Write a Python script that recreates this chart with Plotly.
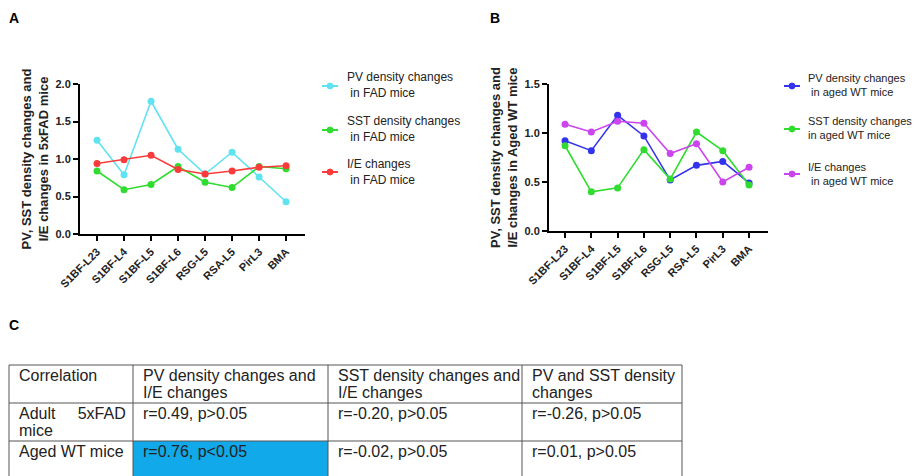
import plotly.graph_objects as go

regions = ["S1BF-L23", "S1BF-L4", "S1BF-L5", "S1BF-L6", "RSG-L5", "RSA-L5", "PirL3", "BMA"]

# Panel A: 5xFAD mice
pv_fad = [1.25, 0.79, 1.77, 1.13, 0.80, 1.09, 0.76, 0.43]
sst_fad = [0.84, 0.59, 0.66, 0.90, 0.69, 0.62, 0.90, 0.87]
ie_fad = [0.94, 0.99, 1.05, 0.86, 0.80, 0.84, 0.89, 0.91]

# Panel B: aged WT mice
pv_wt = [0.92, 0.82, 1.18, 0.97, 0.52, 0.67, 0.71, 0.49]
sst_wt = [0.87, 0.40, 0.44, 0.83, 0.53, 1.01, 0.82, 0.47]
ie_wt = [1.09, 1.01, 1.12, 1.10, 0.79, 0.89, 0.50, 0.65]

names_fad = ["PV density changes<br>\u00a0in FAD mice",
             "SST density changes<br>\u00a0in FAD mice",
             "I/E changes<br>\u00a0in FAD mice"]
names_wt = ["PV density changes<br>\u00a0in aged WT mice",
            "SST density changes<br>in aged WT mice",
            "I/E changes<br>\u00a0in aged WT mice"]

# Panel C: correlation table
table_header = ["Correlation", "PV density changes and<br>I/E changes",
                "SST density changes and<br>I/E changes", "PV and SST density<br>changes"]
table_rows = ["Adult\u00a0\u00a0\u00a0\u00a0\u00a05xFAD<br>mice", "Aged WT mice"]
corr_pv_ie = ["r=0.49, p>0.05", "r=0.76, p<0.05"]
corr_sst_ie = ["r=-0.20, p>0.05", "r=-0.02, p>0.05"]
corr_pv_sst = ["r=-0.26, p>0.05", "r=0.01, p>0.05"]
significant = [[False, False], [False, True], [False, False], [False, False]]

# the page body adds an 8 px margin; the figure is sized to the remaining view
OFF = 8
W, H = 920 - OFF, 476 - OFF
FONT = "Liberation Sans, Arial, sans-serif"
TXT = "#222222"

def px(x):
    return (x - OFF) / W

def py(y):
    return 1 - (y - OFF) / H

C_CYAN = "#5fe3f0"
C_GREEN = "#2fdc2f"
C_RED = "#fb3b3b"
C_BLUE = "#3333ee"
C_MAG = "#cc44ee"
C_SIG = "#11a9e9"

fig = go.Figure()

def add_series(y, color, name, xa, ya):
    fig.add_trace(go.Scatter(
        x=regions, y=y, mode="lines+markers", name=name.replace("<br>", " "),
        line=dict(color=color, width=1.6),
        marker=dict(color=color, size=7),
        xaxis=xa, yaxis=ya, showlegend=False,
    ))

colors_fad = [C_CYAN, C_GREEN, C_RED]
colors_wt = [C_BLUE, C_GREEN, C_MAG]
for ys, c, n in zip([pv_fad, sst_fad, ie_fad], colors_fad, names_fad):
    add_series(ys, c, n, "x", "y")
for ys, c, n in zip([pv_wt, sst_wt, ie_wt], colors_wt, names_wt):
    add_series(ys, c, n, "x2", "y2")

shapes = []
annotations = []

# Legends (drawn as key symbols + text)
def add_legend(names, colors, sym_x, text_x, centers, size):
    for n, c, cy in zip(names, colors, centers):
        shapes.append(dict(type="line", xref="paper", yref="paper",
                           x0=px(sym_x - 8), x1=px(sym_x + 8), y0=py(cy), y1=py(cy),
                           line=dict(color=c, width=2)))
        shapes.append(dict(type="circle", xref="paper", yref="paper",
                           x0=px(sym_x - 3), x1=px(sym_x + 3), y0=py(cy - 3), y1=py(cy + 3),
                           fillcolor=c, line=dict(color=c, width=1)))
        annotations.append(dict(text=n, x=px(text_x), y=py(cy - 0.5), xref="paper", yref="paper",
                                xanchor="left", yanchor="middle", align="left", showarrow=False,
                                font=dict(family=FONT, size=size, color=TXT)))

add_legend(names_fad, colors_fad, 330, 345, [86, 130, 172], 12)
add_legend(names_wt, colors_wt, 792, 806, [86, 129, 174], 11)

# Table (axis x3/y3 in pixel-like units)
col_widths = [124, 195, 194, 160]
row_heights = [38, 38, 38]
edges_x = [0]
for w in col_widths:
    edges_x.append(edges_x[-1] + w)
edges_y = [0]
for h in row_heights:
    edges_y.append(edges_y[-1] + h)

columns = [[table_header[0]] + table_rows,
           [table_header[1]] + corr_pv_ie,
           [table_header[2]] + corr_sst_ie,
           [table_header[3]] + corr_pv_sst]

for ci in range(len(col_widths)):
    for ri in range(1, len(row_heights)):
        if significant[ci][ri - 1]:
            shapes.append(dict(type="rect", xref="x3", yref="y3", layer="below",
                               x0=edges_x[ci], x1=edges_x[ci + 1],
                               y0=edges_y[ri], y1=edges_y[ri + 1],
                               fillcolor=C_SIG, line=dict(width=0)))
for yv in edges_y[:-1]:
    shapes.append(dict(type="line", xref="x3", yref="y3", x0=edges_x[0], x1=edges_x[-1],
                       y0=yv, y1=yv, line=dict(color="#555555", width=1)))
for xv in edges_x:
    shapes.append(dict(type="line", xref="x3", yref="y3", x0=xv, x1=xv,
                       y0=edges_y[0], y1=edges_y[-1], line=dict(color="#555555", width=1)))

for ci, col in enumerate(columns):
    for ri, txt in enumerate(col):
        for li, line in enumerate(txt.split("<br>")):
            annotations.append(dict(text=line, x=edges_x[ci] + 8, y=edges_y[ri] + 10.5 + 17 * li,
                                    xref="x3", yref="y3", xanchor="left", yanchor="middle",
                                    showarrow=False, font=dict(family=FONT, size=16, color=TXT)))

# Panel labels
for lab, lx, ly in [("A", 14, 18), ("B", 495, 18), ("C", 14, 325)]:
    annotations.append(dict(text="<b>%s</b>" % lab, x=px(lx), y=py(ly), xref="paper", yref="paper",
                            xanchor="center", yanchor="middle",
                            showarrow=False, font=dict(family=FONT, size=14, color="black")))

axis_common = dict(
    showline=True, linecolor="black", linewidth=2, ticks="outside",
    ticklen=5, tickwidth=2, tickcolor="black", showgrid=False, zeroline=False,
    automargin=False,
    tickfont=dict(family=FONT, size=11, color=TXT, weight="bold"),
)
title_font = dict(family=FONT, size=13, color=TXT, weight="bold")

fig.update_layout(
    width=W, height=H, margin=dict(l=0, r=0, t=0, b=0, autoexpand=False),
    paper_bgcolor="white", plot_bgcolor="white",
    font=dict(family=FONT, color=TXT),
    showlegend=False,
    xaxis=dict(domain=[px(80), px(305)], anchor="y", range=[-0.63, 7.7],
               tickangle=-45, **axis_common),
    yaxis=dict(domain=[py(234), py(84)], anchor="x", range=[0, 2.0],
               tickvals=[0, 0.5, 1.0, 1.5, 2.0], tickformat=".1f",
               title=dict(text="PV, SST density changes and<br>I/E changes in 5xFAD mice",
                          font=title_font, standoff=4),
               **axis_common),
    xaxis2=dict(domain=[px(549), px(768)], anchor="y2", range=[-0.61, 7.72],
                tickangle=-45, **axis_common),
    yaxis2=dict(domain=[py(231), py(84)], anchor="x2", range=[0, 1.5],
                tickvals=[0, 0.5, 1.0, 1.5], tickformat=".1f",
                title=dict(text="PV, SST density changes and<br>I/E changes in Aged WT mice",
                           font=title_font, standoff=4),
                **axis_common),
    xaxis3=dict(domain=[px(8), px(685)], anchor="y3", range=[-1, 676], visible=False,
                fixedrange=True),
    yaxis3=dict(domain=[0, py(363)], anchor="x3", range=[111, -2], visible=False,
                fixedrange=True),
    shapes=shapes,
    annotations=annotations,
)

fig.write_html("out.html")
